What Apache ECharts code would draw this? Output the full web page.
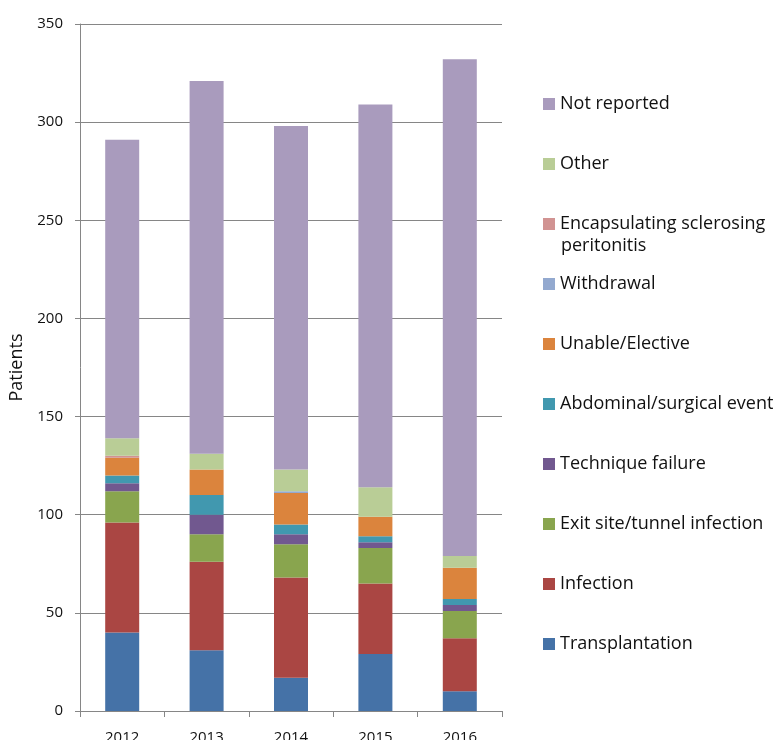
<!DOCTYPE html>
<html><head><meta charset="utf-8">
<script src="https://cdn.jsdelivr.net/npm/echarts@6/dist/echarts.min.js"></script>
<style>html,body{margin:0;padding:0;background:#fff}#c{width:783px;height:740px}</style>
</head><body><div id="c"></div>
<script>
const years = ['2012','2013','2014','2015','2016'];
const transplantation = [40, 31, 17, 29, 10];
const infection = [56, 45, 51, 36, 27];
const exitSite = [16, 14, 17, 18, 14];
const techniqueFailure = [4, 10, 5, 3, 3];
const abdominal = [4, 10, 5, 3, 3];
const unableElective = [9, 13, 16, 10, 16];
const withdrawal = [0, 0, 1, 0, 0];
const esp = [1, 0, 0, 0, 0];
const other = [9, 8, 11, 15, 6];
const notReported = [152, 190, 175, 195, 253];
const yTicks = [0, 50, 100, 150, 200, 250, 300, 350];

const seriesNames = ['Transplantation','Infection','Exit site/tunnel infection','Technique failure','Abdominal/surgical event','Unable/Elective','Withdrawal','Encapsulating sclerosing peritonitis','Other','Not reported'];
const seriesData = [transplantation, infection, exitSite, techniqueFailure, abdominal, unableElective, withdrawal, esp, other, notReported];
const colors = ['#4572A7','#AA4643','#89A54E','#71588F','#4198AF','#DB843D','#93A9CF','#D19392','#B9CD96','#A99BBD'];
const legendCenters = [643, 583, 523, 463, 403, 343, 283, 223, 163, 103];

const font = '"Open Sans", "Liberation Sans", sans-serif';
const chart = echarts.init(document.getElementById('c'));
const legends = seriesNames.map((n, i) => ({
  data: [n], left: 543, top: legendCenters[i] - 10, orient: 'vertical',
  itemWidth: 12, itemHeight: 12, itemGap: 6, icon: 'rect',
  selectedMode: false, padding: 0,
  formatter: n === 'Encapsulating sclerosing peritonitis' ? () => 'Encapsulating sclerosing' : undefined,
  textStyle: {fontFamily: font, fontSize: 18, color: '#111', lineHeight: 22, padding: [0,0,0,0]}
}));
chart.setOption({
  animation: false,
  color: colors,
  grid: {left: 80, right: 281, top: 24, bottom: 29, containLabel: false, outerBoundsMode: 'none'},
  legend: legends,
  graphic: [{type: 'text', left: 561, top: 237, style: {text: 'peritonitis', font: '18px ' + font, fill: '#111'}}],
  xAxis: {
    type: 'category', data: years,
    axisLine: {lineStyle: {color: '#868686', width: 1}},
    axisTick: {show: true, length: 6, lineStyle: {color: '#868686'}},
    axisLabel: {fontFamily: font, fontSize: 15, color: '#111', margin: 19}
  },
  yAxis: {
    type: 'value', min: 0, max: 350, interval: 50,
    name: 'Patients', nameLocation: 'middle', nameGap: 52, nameRotate: 90,
    nameTextStyle: {fontFamily: font, fontSize: 18, color: '#111'},
    axisLine: {show: true, lineStyle: {color: '#868686', width: 1}},
    axisTick: {show: true, length: 5, lineStyle: {color: '#868686'}},
    axisLabel: {fontFamily: font, fontSize: 15, color: '#111', margin: 17,
      formatter: v => yTicks.includes(v) ? String(v) : ''},
    splitLine: {lineStyle: {color: '#868686', width: 1}}
  },
  series: seriesNames.map((n, i) => ({
    name: n, type: 'bar', stack: 'total', data: seriesData[i], barWidth: 34
  }))
});
</script></body></html>
